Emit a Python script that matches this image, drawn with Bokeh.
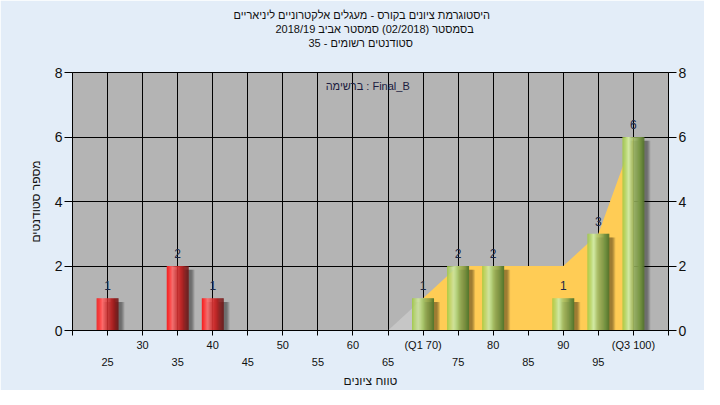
import numpy as np
from bokeh.plotting import figure
from bokeh.models import FixedTicker, LinearAxis, Range1d, Label, Title
from bokeh.embed import file_html
from bokeh.resources import INLINE
from bokeh.core.properties import value

# ---------------- data ----------------
title_lines = [
    "היסטוגרמת ציונים בקורס - מעגלים אלקטרוניים ליניאריים",
    "בסמסטר  (02/2018)  סמסטר אביב 2018/19",
    "סטודנטים רשומים - 35",
]
list_label = "ברשימה : Final_B"
x_title = "טווח ציונים"
y_title = "מספר סטודנטים"

fail_grades = [25, 35, 40]
fail_counts = [1, 2, 1]
pass_grades = [70, 75, 80, 90, 95, 100]
pass_counts = [1, 2, 2, 1, 3, 6]

curve_grades = [65, 70, 75, 80, 85, 90, 95, 100]
curve_values = [0, 1, 2, 2, 2, 2, 3, 6]
q1 = 70
q3 = 100

x_ticks = list(range(20, 106, 5))
upper_labels = {30: "30", 40: "40", 50: "50", 60: "60", 70: "(Q1 70)",
                80: "80", 90: "90", 100: "(Q3 100)"}
lower_labels = {25: "25", 35: "35", 45: "45", 55: "55", 65: "65",
                75: "75", 85: "85", 95: "95"}
y_ticks = [0, 2, 4, 6, 8]

# ---------------- styles ----------------
FONT = "Liberation Sans"
BAR_W = 3.1
red_stops = [(0.0, "#f41e1e"), (0.28, "#ff6a6a"), (0.5, "#e03434"), (1.0, "#6a1010")]
green_stops = [(0.0, "#9ec83e"), (0.28, "#d2e8a2"), (0.5, "#a8c46a"), (1.0, "#55742a")]


def hex2rgb(h):
    h = h.lstrip("#")
    return np.array([int(h[i:i + 2], 16) for i in (0, 2, 4)], dtype=float)


def interp(stops, t):
    for (t0, c0), (t1, c1) in zip(stops[:-1], stops[1:]):
        if t <= t1:
            f = (t - t0) / (t1 - t0)
            c = hex2rgb(c0) * (1 - f) + hex2rgb(c1) * f
            return "#%02x%02x%02x" % tuple(int(round(v)) for v in c)
    return stops[-1][1]


p = figure(frame_width=596, frame_height=258, title=None,
           x_range=Range1d(20, 105), y_range=Range1d(0, 8),
           output_backend="svg", toolbar_location=None,
           min_border_left=72, min_border_right=36,
           min_border_top=72, min_border_bottom=59,
           background_fill_color="#b4b4b4", border_fill_color="#e3edf8",
           outline_line_color="black", outline_line_alpha=1.0)

# grid
p.xgrid.ticker = FixedTicker(ticks=x_ticks)
p.ygrid.ticker = FixedTicker(ticks=y_ticks)
for g in (p.xgrid, p.ygrid):
    g.grid_line_color = "black"
    g.grid_line_alpha = 1.0
    g.grid_line_width = 1

# area (frequency envelope): outside IQR light, inside IQR orange
cg = np.array(curve_grades, dtype=float)
cv = np.array(curve_values, dtype=float)
left_mask = cg <= q1
iqr_mask = (cg >= q1) & (cg <= q3)
p.varea(x=cg[left_mask], y1=0, y2=cv[left_mask], fill_color="#c6c6c6")
p.varea(x=cg[iqr_mask], y1=0, y2=cv[iqr_mask], fill_color="#ffcc55")


def draw_bars(grades, counts, stops):
    grades = np.array(grades, dtype=float)
    counts = np.array(counts, dtype=float)
    # shadow (soft, to the right)
    for k, (dx, a) in enumerate([(0.45, 0.10), (0.65, 0.12), (0.85, 0.13), (1.05, 0.10)]):
        p.vbar(x=grades + dx, top=counts - 0.12, bottom=0, width=BAR_W * (1.0 - 0.04 * k),
               fill_color="black", fill_alpha=a, line_color=None)
    # cylinder gradient
    n = 20
    xs, tops, cols = [], [], []
    for i in range(n):
        t = (i + 0.5) / n
        col = interp(stops, t)
        for g, c in zip(grades, counts):
            xs.append(g - BAR_W / 2 + (i + 0.5) * BAR_W / n)
            tops.append(c)
            cols.append(col)
    p.vbar(x=xs, top=tops, bottom=0, width=BAR_W / n * 1.15,
           fill_color=cols, line_color=None)
    p.text(x=grades, y=counts, text=[str(int(c)) for c in counts],
           text_align="center", text_baseline="bottom", y_offset=-8,
           text_font=value(FONT), text_font_size="12px", text_color="#1c2848")


draw_bars(fail_grades, fail_counts, red_stops)
draw_bars(pass_grades, pass_counts, green_stops)

# label inside plot
p.add_layout(Label(x=62.1, y=7.58, text=list_label, text_align="center",
                   text_baseline="middle", text_font=FONT, text_font_size="11px",
                   text_color="#1c1c40"))

# axes
xa = p.xaxis[0]
xa.ticker = FixedTicker(ticks=x_ticks)
xa.major_label_overrides = {t: upper_labels.get(t, "") for t in x_ticks}
xa.major_tick_out = 5
xa.major_tick_in = 0
xa.minor_tick_line_color = None
xa.axis_line_color = "black"
xa.major_tick_line_color = "black"
xa.major_label_standoff = 3
xa.major_label_text_font = FONT
xa.major_label_text_font_size = "11px"
xa.major_label_text_color = "#101010"

xa2 = LinearAxis(ticker=FixedTicker(ticks=sorted(lower_labels)),
                 major_label_overrides={t: s for t, s in lower_labels.items()},
                 axis_line_color=None, major_tick_line_color=None,
                 minor_tick_line_color=None, major_tick_out=0, major_tick_in=0,
                 major_label_standoff=4, major_label_text_font=FONT,
                 major_label_text_font_size="11px", major_label_text_color="#101010",
                 axis_label=x_title, axis_label_text_font=FONT,
                 axis_label_text_font_size="12px", axis_label_text_font_style="normal",
                 axis_label_standoff=5, axis_label_text_color="#141414")
p.add_layout(xa2, "below")

ya = p.yaxis[0]
ya.ticker = FixedTicker(ticks=y_ticks)
ya.axis_label = y_title
ya.axis_label_text_font = FONT
ya.axis_label_text_font_size = "12px"
ya.axis_label_text_font_style = "normal"
ya.axis_label_standoff = 9
ya.axis_label_text_color = "#141414"

ya2 = LinearAxis(ticker=FixedTicker(ticks=y_ticks))
p.add_layout(ya2, "right")
for a in (ya, ya2):
    a.major_tick_out = 8
    a.major_tick_in = 0
    a.minor_tick_line_color = None
    a.axis_line_color = "black"
    a.major_tick_line_color = "black"
    a.major_label_standoff = 2
    a.major_label_text_font = FONT
    a.major_label_text_font_size = "14px"
    a.major_label_text_color = "#101010"

# titles: a blank spacer next to the frame, then the lines (closest to frame first)
p.add_layout(Title(text=" ", text_font=FONT, text_font_size="11px", standoff=10), "above")
title_offsets = [161, 203, 236]  # left offsets so the lines centre near the canvas middle
for line, off in zip(reversed(title_lines), reversed(title_offsets)):
    p.add_layout(Title(text=line, align="left", offset=off,
                       text_font=FONT, text_font_size="11px",
                       text_font_style="normal", text_color="#101010",
                       standoff=0), "above")

open("out.html", "w").write(file_html(p, INLINE))
